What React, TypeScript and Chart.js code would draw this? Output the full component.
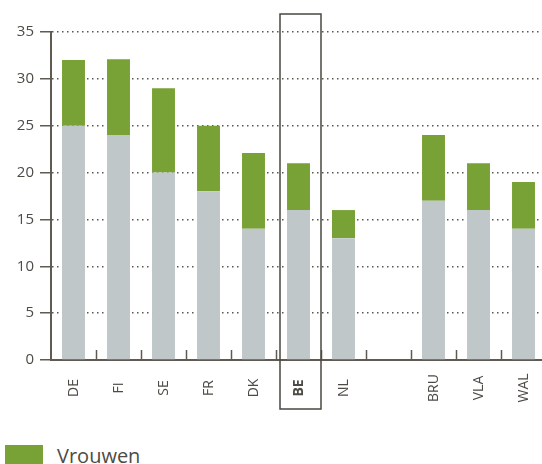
import React, { useEffect, useRef } from 'react';
import { Chart, registerables } from 'chart.js';

Chart.register(...registerables);

const categories = ['DE', 'FI', 'SE', 'FR', 'DK', 'BE', 'NL', '', 'BRU', 'VLA', 'WAL'];
const mannen = [25, 24, 20, 18, 14, 16, 13, null, 17, 16, 14];
const vrouwen = [7, 8.1, 9, 7, 8.1, 5, 3, null, 7, 5, 5];
const yMin = 0;
const yMax = 35;
const yStep = 5;
const highlightIndex = 5;
const seriesNames = ['Mannen', 'Vrouwen'];

const GREEN = '#79a236';
const GREY = '#c0c7c9';
const AXIS = '#5f5b52';
const TEXT = '#4d4b45';
const FONT = '"Open Sans", "DejaVu Sans", sans-serif';

const customPlugin = {
  id: 'customAxis',
  afterDraw(chart: any) {
    const ctx = chart.ctx;
    const xs = chart.scales.x;
    const area = chart.chartArea;
    const n = categories.length;
    const step = xs.getPixelForValue(1) - xs.getPixelForValue(0);
    ctx.save();
    ctx.strokeStyle = AXIS;
    ctx.lineWidth = 1.5;
    for (let i = 1; i < n; i++) {
      const b = Math.round(xs.getPixelForValue(i) - step / 2) + 0.5;
      ctx.beginPath();
      ctx.moveTo(b, area.bottom);
      ctx.lineTo(b, area.bottom - 10);
      ctx.stroke();
    }
    ctx.fillStyle = TEXT;
    for (let i = 0; i < n; i++) {
      const px = xs.getPixelForValue(i);
      ctx.save();
      ctx.translate(px, area.bottom + 28);
      ctx.rotate(-Math.PI / 2);
      ctx.font = (i === highlightIndex ? 'bold ' : '') + '14px ' + FONT;
      ctx.textAlign = 'center';
      ctx.textBaseline = 'middle';
      ctx.fillText(categories[i], 0, 1);
      ctx.restore();
    }
    const c = xs.getPixelForValue(highlightIndex);
    const left = c - step / 2 + 4;
    const right = c + step / 2;
    const top = area.top - 18;
    const bottom = area.bottom + 49;
    ctx.strokeStyle = '#4a4740';
    ctx.lineWidth = 1.5;
    ctx.strokeRect(left, top, right - left, bottom - top);
    ctx.restore();
  },
};

function ChartCanvas() {
  const ref = useRef<HTMLCanvasElement | null>(null);
  useEffect(() => {
    if (!ref.current) return;
    const chart = new Chart(ref.current, {
      type: 'bar',
      data: {
        labels: categories,
        datasets: [
          { label: seriesNames[0], data: mannen as any, backgroundColor: GREY, barPercentage: 0.51, categoryPercentage: 1 },
          { label: seriesNames[1], data: vrouwen as any, backgroundColor: GREEN, barPercentage: 0.51, categoryPercentage: 1 },
        ],
      },
      options: {
        responsive: false,
        animation: false,
        devicePixelRatio: 1,
        layout: { padding: { top: 32, right: 14, left: 0, bottom: 0 } },
        plugins: { legend: { display: false }, tooltip: { enabled: false } },
        scales: {
          x: {
            stacked: true,
            grid: { display: false },
            border: { display: true, color: AXIS, width: 2 },
            ticks: { display: false },
            afterFit: (s: any) => { s.height = 70; },
          },
          y: {
            stacked: true,
            min: yMin,
            max: yMax,
            ticks: {
              stepSize: yStep,
              color: TEXT,
              font: { family: FONT, size: 15 },
              padding: 6,
            },
            grid: {
              color: '#5a574f',
              lineWidth: 1.5,
              tickLength: 11,
              tickColor: AXIS,
              tickWidth: 1.5,
              tickBorderDash: [],
            },
            border: { display: true, color: AXIS, width: 2, dash: [1.5, 3.5] },
            afterFit: (s: any) => { s.width = 51; },
          },
        },
      },
      plugins: [customPlugin],
    });
    return () => chart.destroy();
  }, []);
  return <canvas ref={ref} width={560} height={430} style={{ position: 'absolute', left: 0, top: 0, width: 560, height: 430 }} />;
}

export default function App() {
  return (
    <div style={{ position: 'fixed', left: 0, top: 0, width: 542, height: 464, overflow: 'hidden', background: '#fff' }}>
      <ChartCanvas />
      <div style={{ position: 'absolute', left: 5, top: 445, fontFamily: FONT, fontSize: 20, color: TEXT }}>
        <div style={{ display: 'flex', height: 26 }}>
          <span style={{ display: 'inline-block', width: 38, height: 20, background: GREEN }} />
          <span style={{ marginLeft: 14, lineHeight: '26px', marginTop: -2 }}>{seriesNames[1]}</span>
        </div>
        <div style={{ display: 'flex', height: 26, marginTop: 10 }}>
          <span style={{ display: 'inline-block', width: 38, height: 20, background: GREY }} />
          <span style={{ marginLeft: 14 }}>{seriesNames[0]}</span>
        </div>
      </div>
    </div>
  );
}
